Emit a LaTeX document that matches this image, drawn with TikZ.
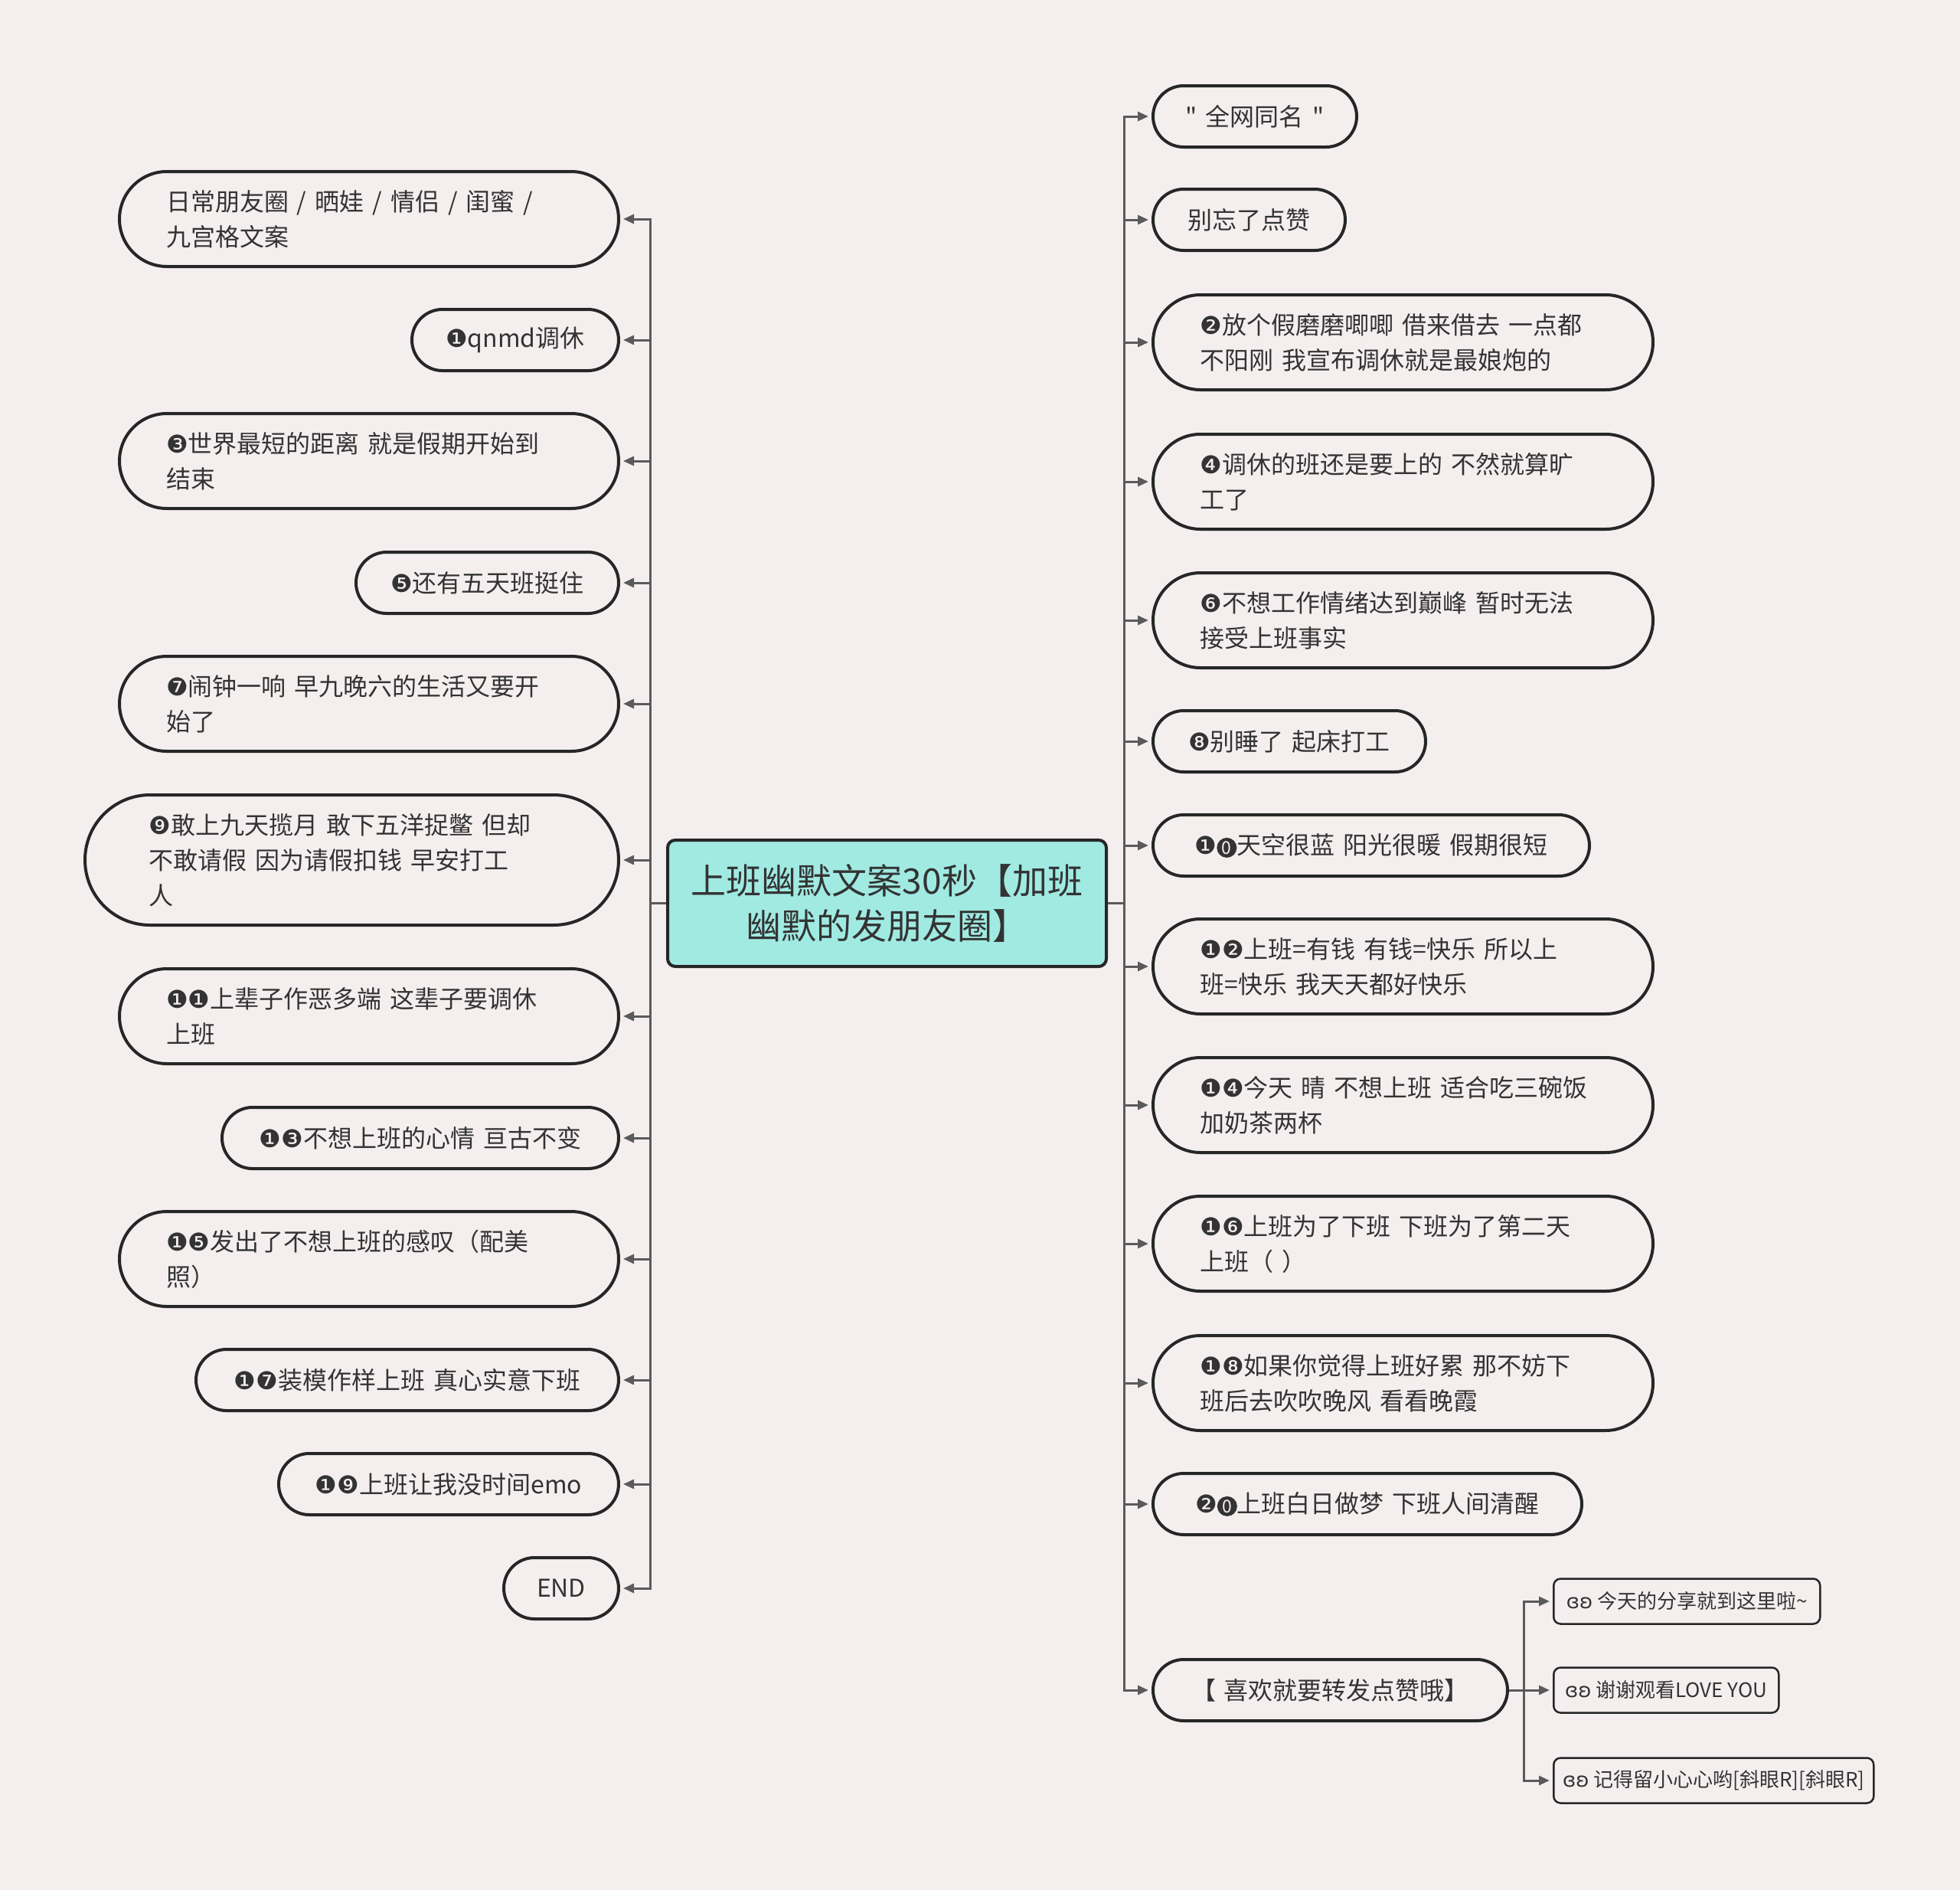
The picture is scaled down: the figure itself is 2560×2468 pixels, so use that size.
\documentclass[tikz,border=0pt]{standalone}
\usepackage{fontspec}
\setmainfont{Noto Sans CJK SC}[Ligatures=TeXOff]
\newfontfamily\symfont{DejaVu Sans}
\usepackage{tikz}
\usetikzlibrary{arrows.meta,positioning}
\definecolor{bgc}{RGB}{245,238,239}
\definecolor{rootc}{RGB}{160,234,226}
\definecolor{linec}{RGB}{90,90,90}
\definecolor{txtc}{RGB}{51,51,51}
\newcommand{\nb}[1]{{\symfont #1}}
\newcommand{\widesp}{\spaceskip=11pt plus 2pt\relax}
\newcommand{\zc}{\tikz[baseline=(zc.base)]\node[circle, fill=txtc, text=bgc, draw=none,
  inner sep=0pt, minimum size=26pt, text width=, font=\fontsize{23}{23}\selectfont] (zc) {0};}

\begin{document}
\begin{tikzpicture}[x=1pt, y=-1pt,
  pill/.style={rectangle, draw=black!85, line width=4pt, fill=bgc, text=txtc,
               font=\fontsize{32}{46}\selectfont, inner sep=0pt,
               execute at begin node=\widesp},
  one/.style={pill, minimum height=80pt, rounded corners=40pt},
  two/.style={pill, minimum height=124pt, rounded corners=62pt, text width=530pt, align=left},
  three/.style={pill, minimum height=170pt, rounded corners=85pt, text width=530pt, align=left},
  tag/.style={rectangle, rounded corners=9pt, draw=black!85, line width=2.5pt, fill=bgc,
              text=txtc, minimum height=59pt, inner sep=0pt, font=\fontsize{26}{30}\selectfont},
  root/.style={rectangle, rounded corners=10pt, draw=black!85, line width=4pt, fill=rootc,
               text=txtc, minimum width=573pt, minimum height=165pt, align=center,
               font=\fontsize{46}{59}\selectfont},
  arrow/.style={-{Triangle[length=14pt,width=12pt]}, line width=3pt, linec, shorten >=4pt}
]
\fill[bgc] (0,0) rectangle (2560,2468);
\useasboundingbox (0,0) rectangle (2560,2468);

\node[root] (root) at (1158.5,1179.5) {上班幽默文案30秒【加班\\幽默的发朋友圈】};

\node[two, minimum width=652pt, anchor=east] (L1) at (810,286) {日常朋友圈 / 晒娃 / 情侣 / 闺蜜 /\\九宫格文案};
\node[one, minimum width=270pt, anchor=east] (L2) at (810,444) {\nb{❶}qnmd调休};
\node[two, minimum width=652pt, anchor=east] (L3) at (810,602) {\nb{❸}世界最短的距离 就是假期开始到\\结束};
\node[one, minimum width=343pt, anchor=east] (L4) at (810,761) {\nb{❺}还有五天班挺住};
\node[two, minimum width=652pt, anchor=east] (L5) at (810,919) {\nb{❼}闹钟一响 早九晚六的生活又要开\\始了};
\node[three, minimum width=697pt, anchor=east] (L6) at (810,1123) {\nb{❾}敢上九天揽月 敢下五洋捉鳖 但却\\不敢请假 因为请假扣钱 早安打工\\人};
\node[two, minimum width=652pt, anchor=east] (L7) at (810,1327) {\nb{❶❶}上辈子作恶多端 这辈子要调休\\上班};
\node[one, minimum width=518pt, anchor=east] (L8) at (810,1486) {\nb{❶❸}不想上班的心情 亘古不变};
\node[two, minimum width=652pt, anchor=east] (L9) at (810,1644) {\nb{❶❺}发出了不想上班的感叹（配美\\照）};
\node[one, minimum width=552pt, anchor=east] (L10) at (810,1802) {\nb{❶❼}装模作样上班 真心实意下班};
\node[one, minimum width=444pt, anchor=east] (L11) at (810,1938) {\nb{❶❾}上班让我没时间emo};
\node[one, minimum width=150pt, anchor=east] (L12) at (810,2074) {END};

\node[one, minimum width=266pt, anchor=west] (R1) at (1504,152) {" 全网同名 "};
\node[one, minimum width=251pt, anchor=west] (R2) at (1504,287) {别忘了点赞};
\node[two, minimum width=653pt, anchor=west] (R3) at (1504,447) {\nb{❷}放个假磨磨唧唧 借来借去 一点都\\不阳刚 我宣布调休就是最娘炮的};
\node[two, minimum width=653pt, anchor=west] (R4) at (1504,629) {\nb{❹}调休的班还是要上的 不然就算旷\\工了};
\node[two, minimum width=653pt, anchor=west] (R5) at (1504,810) {\nb{❻}不想工作情绪达到巅峰 暂时无法\\接受上班事实};
\node[one, minimum width=356pt, anchor=west] (R6) at (1504,968) {\nb{❽}别睡了 起床打工};
\node[one, minimum width=570pt, anchor=west] (R7) at (1504,1104) {\nb{❶}\zc 天空很蓝 阳光很暖 假期很短};
\node[two, minimum width=653pt, anchor=west] (R8) at (1504,1262) {\nb{❶❷}上班=有钱 有钱=快乐 所以上\\班=快乐 我天天都好快乐};
\node[two, minimum width=653pt, anchor=west] (R9) at (1504,1443) {\nb{❶❹}今天 晴 不想上班 适合吃三碗饭\\加奶茶两杯};
\node[two, minimum width=653pt, anchor=west] (R10) at (1504,1624) {\nb{❶❻}上班为了下班 下班为了第二天\\上班（ ）};
\node[two, minimum width=653pt, anchor=west] (R11) at (1504,1806) {\nb{❶❽}如果你觉得上班好累 那不妨下\\班后去吹吹晚风 看看晚霞};
\node[one, minimum width=560pt, anchor=west] (R12) at (1504,1964) {\nb{❷}\zc 上班白日做梦 下班人间清醒};
\node[one, minimum width=463pt, anchor=west] (R13) at (1504,2207) {【 喜欢就要转发点赞哦】};

\node[tag, minimum width=348pt, anchor=west] (S1) at (2028,2091) {\nb{ɞʚ} 今天的分享就到这里啦\textasciitilde};
\node[tag, minimum width=294pt, anchor=west] (S2) at (2028,2207) {\nb{ɞʚ} 谢谢观看LOVE YOU};
\node[tag, minimum width=418pt, anchor=west] (S3) at (2028,2325) {\nb{ɞʚ} 记得留小心心哟[斜眼R][斜眼R]};

\coordinate (lbus) at (849,1179.5);
\coordinate (rbus) at (1468,1179.5);
\coordinate (sbus) at (1990,2207);
\foreach \n in {L1,L2,L3,L4,L5,L6,L7,L8,L9,L10,L11,L12}
  \draw[arrow] (root.west) -| (lbus) |- (\n.east);
\foreach \n in {R1,R2,R3,R4,R5,R6,R7,R8,R9,R10,R11,R12,R13}
  \draw[arrow] (root.east) -| (rbus) |- (\n.west);
\foreach \n in {S1,S2,S3}
  \draw[arrow] (R13.east) -| (sbus) |- (\n.west);
\end{tikzpicture}
\end{document}
